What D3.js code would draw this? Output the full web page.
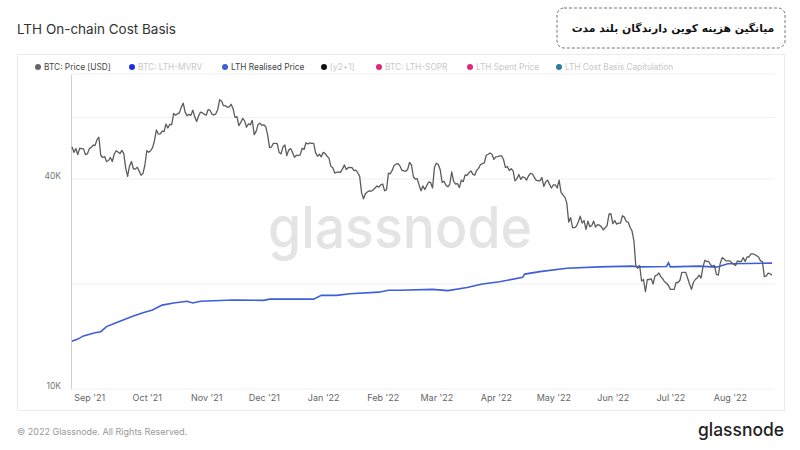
<!DOCTYPE html>
<html>
<head>
<meta charset="utf-8">
<script src="https://cdn.jsdelivr.net/npm/d3@7"></script>
<style>
  body { margin: 0; background: #fff; }
  text { font-family: Inter, "Noto Sans", sans-serif; }
</style>
</head>
<body>
<script>
// BTC daily close in USD thousands, starting 2021-08-23
const priceStart = "2021-08-23";
const priceK = [
  // Aug 21
  49.5, 47.7, 48.9, 47.0, 49.0, 48.9, 48.8, 47.0, 47.2,
  // Sep 21
  48.8, 49.3, 50.0, 49.9, 51.8, 52.7, 46.8, 46.1, 46.4, 44.9, 45.2, 46.1, 44.9, 47.1, 48.2,
  47.8, 47.3, 48.3, 47.3, 43.0, 40.7, 43.6, 44.9, 42.8, 42.7, 43.2, 42.2, 41.0, 41.5, 43.8,
  // Oct 21
  48.2, 47.7, 48.2, 49.2, 51.5, 55.3, 53.8, 53.9, 54.9, 54.7, 57.5, 56.0, 57.4, 57.3, 61.7,
  60.9, 61.5, 62.0, 64.3, 66.0, 62.2, 60.7, 61.3, 60.9, 63.0, 60.3, 58.5, 60.6, 62.2, 61.9, 61.3,
  // Nov 21
  61.0, 63.3, 62.9, 61.4, 61.0, 61.5, 63.3, 67.5, 66.9, 64.9, 64.9, 64.2, 64.4, 65.5, 63.6,
  60.1, 60.4, 56.9, 58.1, 59.7, 58.7, 56.3, 57.6, 57.2, 58.9, 53.6, 54.8, 57.3, 57.8, 57.0,
  // Dec 21
  57.2, 56.5, 53.6, 49.2, 49.4, 50.6, 50.6, 50.5, 47.7, 47.2, 49.4, 50.1, 46.7, 48.4, 48.9,
  47.6, 46.2, 46.8, 46.7, 46.9, 49.0, 48.6, 50.8, 50.4, 50.8, 50.6, 50.6, 47.6, 46.5, 47.1, 46.3,
  // Jan 22
  47.7, 47.3, 46.5, 45.9, 43.5, 43.1, 41.6, 41.8, 41.9, 41.8, 42.7, 43.9, 42.6, 43.1, 43.2,
  43.1, 42.3, 42.4, 41.7, 40.7, 36.5, 35.1, 36.3, 36.7, 37.0, 36.9, 37.2, 37.7, 38.2, 37.9, 38.5,
  // Feb 22
  38.7, 37.0, 37.3, 41.6, 41.4, 42.4, 43.8, 44.1, 44.3, 43.6, 42.4, 42.2, 42.1, 42.6, 44.6,
  43.9, 40.6, 40.0, 40.1, 38.4, 37.0, 38.2, 37.3, 38.3, 39.2, 39.1, 37.7, 43.2,
  // Mar 22
  44.4, 44.0, 42.5, 39.1, 39.4, 38.4, 38.0, 38.7, 41.9, 39.4, 38.7, 38.8, 37.8, 39.7, 39.3,
  41.1, 41.0, 41.7, 42.2, 41.3, 41.0, 42.4, 42.9, 44.0, 44.3, 44.5, 46.8, 47.1, 47.5, 47.1, 45.5,
  // Apr 22
  46.3, 46.4, 46.6, 46.6, 45.5, 43.2, 43.4, 42.3, 42.8, 42.2, 39.5, 40.1, 41.2, 39.9, 40.6,
  40.4, 39.7, 40.8, 41.5, 41.4, 40.5, 39.7, 39.5, 39.5, 40.4, 38.1, 39.2, 39.7, 38.6, 37.7,
  // May 22
  38.5, 38.5, 37.7, 39.7, 36.6, 36.0, 35.5, 34.1, 30.1, 31.0, 29.0, 29.0, 29.3, 30.1, 31.3,
  29.9, 30.4, 28.7, 30.3, 29.2, 29.4, 30.3, 29.1, 29.6, 29.5, 29.2, 28.6, 29.0, 29.4, 31.7, 31.8,
  // Jun 22
  29.8, 30.4, 29.7, 29.9, 29.9, 31.4, 31.1, 30.2, 30.1, 29.1, 28.4, 26.6, 22.5, 22.2, 22.6,
  20.4, 20.6, 19.0, 20.6, 20.6, 20.7, 20.0, 21.1, 21.2, 21.5, 21.0, 20.7, 20.3, 20.1, 19.8,
  // Jul 22
  19.3, 19.3, 19.3, 20.2, 20.2, 20.5, 21.6, 21.6, 21.6, 20.8, 20.0, 19.3, 20.2, 20.6, 20.8,
  21.2, 20.8, 22.4, 23.4, 23.2, 23.2, 22.7, 22.5, 22.6, 21.3, 21.2, 22.9, 23.8, 23.6, 23.3, 23.3,
  // Aug 22
  23.3, 23.0, 22.8, 22.6, 23.3, 23.2, 23.2, 23.8, 23.2, 23.9, 23.9, 24.4, 24.4, 24.3, 24.1,
  23.9, 23.3, 23.2, 21.0, 21.1, 21.5, 21.4, 21.2
];

// LTH realised price, USD thousands
const lthDates = [
  "2021-08-23", "2021-08-26", "2021-08-29", "2021-09-04", "2021-09-07", "2021-09-10",
  "2021-09-14", "2021-09-19", "2021-09-24", "2021-09-29", "2021-10-04", "2021-10-09",
  "2021-10-15", "2021-10-22", "2021-10-25", "2021-10-29", "2021-11-15", "2021-12-01",
  "2021-12-04", "2021-12-27", "2021-12-31", "2022-01-08", "2022-01-15", "2022-01-30",
  "2022-02-04", "2022-02-10", "2022-02-27", "2022-03-07", "2022-03-17", "2022-03-25",
  "2022-04-03", "2022-04-15", "2022-04-16", "2022-04-24", "2022-05-08", "2022-05-25",
  "2022-06-11", "2022-06-15", "2022-06-29", "2022-06-30", "2022-07-01", "2022-07-16",
  "2022-07-25", "2022-07-31", "2022-08-10", "2022-08-23"
];
const lthValues = [
  13.7, 13.9, 14.2, 14.5, 14.6, 15.1,
  15.4, 15.8, 16.2, 16.55, 16.85, 17.4,
  17.65, 17.85, 17.65, 17.85, 18.0, 17.95,
  18.1, 18.1, 18.55, 18.55, 18.75, 18.95,
  19.2, 19.2, 19.3, 19.15, 19.55, 20.0,
  20.3, 20.9, 21.35, 21.7, 22.2, 22.4,
  22.5, 22.4, 22.45, 23.0, 22.4, 22.5,
  22.35, 22.85, 22.9, 22.95
];

const legendNames = ["BTC: Price [USD]", "BTC: LTH-MVRV", "LTH Realised Price", "[y2+1]",
  "BTC: LTH-SOPR", "LTH Spent Price", "LTH Cost Basis Capitulation"];
const legendColors = ["#666666", "#1a33d6", "#3d5fd8", "#111111", "#e0287a", "#e0287a", "#2f7d9c"];
const legendActive = [true, false, true, false, false, false, false];

const yTickLabels = [10, 40];
const yGrid = [10, 20, 40, 60, 80];

const W = 800, H = 450;
const plot = { left: 72, right: 775, top: 74, bottom: 389 };

const parse = d3.timeParse("%Y-%m-%d");
const t0 = parse(priceStart);
const price = priceK.map((v, i) => ({ date: d3.timeDay.offset(t0, i), v }));
const lth = lthDates.map((d, i) => ({ date: parse(d), v: lthValues[i] }));

const svg = d3.select("body").append("svg")
  .attr("width", W).attr("height", H);

// title
svg.append("text")
  .attr("x", 17).attr("y", 34)
  .attr("font-size", 13.5).attr("fill", "#333")
  .text("LTH On-chain Cost Basis");

// persian caption box
svg.append("rect")
  .attr("x", 557).attr("y", 8).attr("width", 228).attr("height", 40)
  .attr("rx", 7)
  .attr("fill", "#fff").attr("stroke", "#777")
  .attr("stroke-dasharray", "3,2");
svg.append("text")
  .attr("x", 673).attr("y", 32)
  .attr("text-anchor", "middle")
  .style("font-family", "'DejaVu Sans', sans-serif")
  .attr("font-size", 10.8).attr("font-weight", "bold").attr("fill", "#111")
  .text("میانگین هزینه کوین دارندگان بلند مدت");

// chart panel
svg.append("rect")
  .attr("x", 17.5).attr("y", 54.5).attr("width", 767).attr("height", 356)
  .attr("fill", "none").attr("stroke", "#ebebeb");

// legend
const legendX = [38, 132, 225, 324, 379, 470, 559];
const lg = svg.append("g").selectAll("g").data(legendNames).join("g")
  .attr("transform", (d, i) => `translate(${legendX[i]},67)`);
lg.append("circle").attr("r", 3).attr("fill", (d, i) => legendColors[i]);
lg.append("text")
  .attr("x", 6).attr("dy", "0.35em")
  .attr("font-size", 8.3)
  .attr("fill", (d, i) => legendActive[i] ? "#444" : "#c8c8c8")
  .text(d => d);

// scales
const x = d3.scaleTime()
  .domain([t0, parse("2022-08-23")])
  .range([plot.left, 772]);
const y = d3.scaleLog()
  .domain([10, 80])
  .range([plot.bottom, plot.top]);

// grid
svg.append("g").selectAll("line").data(yGrid).join("line")
  .attr("x1", plot.left).attr("x2", plot.right)
  .attr("y1", d => y(d)).attr("y2", d => y(d))
  .attr("stroke", "#f0f0f0");

// watermark
svg.append("text")
  .attr("x", 400).attr("y", 248)
  .attr("text-anchor", "middle")
  .attr("font-size", 58).attr("font-weight", 500)
  .attr("fill", "#e4e4e4")
  .attr("textLength", 264).attr("lengthAdjust", "spacingAndGlyphs")
  .text("glassnode");

// y axis
const yAxis = svg.append("g")
  .attr("transform", `translate(${plot.left - 1},0)`)
  .call(d3.axisLeft(y).tickValues(yTickLabels).tickSize(0).tickPadding(10)
    .tickFormat(d => d + "K"));
yAxis.select(".domain").attr("stroke", "#cfcfcf");
yAxis.selectAll("text").attr("font-size", 8.5).attr("fill", "#777").attr("dy", "-0.1em");

// x axis
const xAxis = svg.append("g")
  .attr("transform", `translate(0,${plot.bottom})`)
  .call(d3.axisBottom(x).ticks(d3.timeMonth.every(1)).tickSize(0).tickPadding(6)
    .tickFormat(d3.timeFormat("%b '%y")));
xAxis.select(".domain").remove();
xAxis.selectAll("text").attr("font-size", 9).attr("fill", "#666");

// lines
const line = d3.line().x(d => x(d.date)).y(d => y(d.v));
svg.append("path").datum(lth)
  .attr("d", line).attr("fill", "none")
  .attr("stroke", "#3d5fd8").attr("stroke-width", 1.6);
svg.append("path").datum(price)
  .attr("d", line).attr("fill", "none")
  .attr("stroke", "#5c5c5c").attr("stroke-width", 1.3)
  .attr("stroke-linejoin", "round");

// footer
svg.append("text")
  .attr("x", 17).attr("y", 435)
  .attr("font-size", 9).attr("fill", "#999")
  .text("© 2022 Glassnode. All Rights Reserved.");
svg.append("text")
  .attr("x", 784).attr("y", 436)
  .attr("text-anchor", "end")
  .attr("font-size", 18).attr("font-weight", 500).attr("fill", "#222")
  .attr("textLength", 86).attr("lengthAdjust", "spacingAndGlyphs")
  .text("glassnode");
</script>
</body>
</html>
